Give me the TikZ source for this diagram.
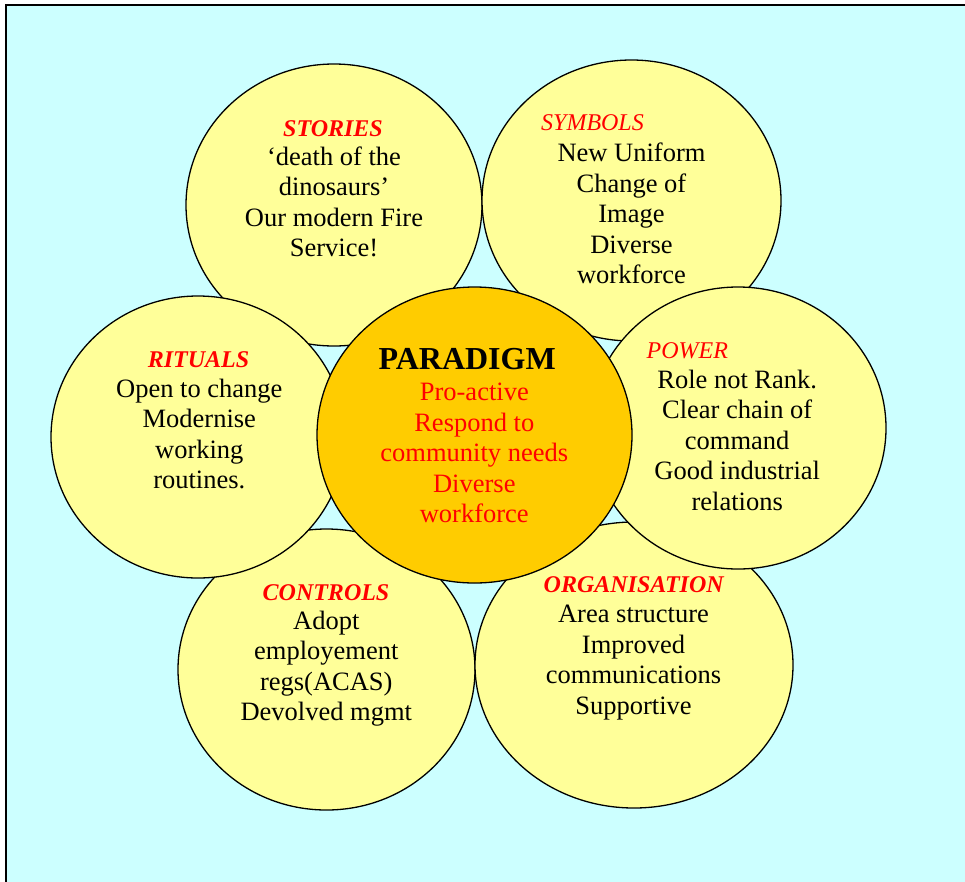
\documentclass[tikz,border=0pt]{standalone}
\usepackage{fontspec}
\setmainfont{Liberation Serif}
\usetikzlibrary{shapes.geometric}
\definecolor{skybg}{HTML}{CCFFFF}
\definecolor{pale}{HTML}{FFFF99}
\definecolor{gold}{HTML}{FFCC00}
\definecolor{hot}{HTML}{FF0000}
\newcommand{\lines}[1]{\begin{tabular}[t]{@{}c@{}}#1\end{tabular}}
\begin{document}
\begin{tikzpicture}[x=1pt,y=-1pt,
  blob/.style={ellipse, draw=black, line width=1.3pt, fill=pale, inner sep=0pt},
  head/.style={anchor=base, inner sep=0pt, text=hot, font=\fontsize{24}{28}\selectfont\bfseries\itshape},
  headlight/.style={anchor=base, inner sep=0pt, text=hot, font=\fontsize{24}{28}\selectfont\itshape},
  body/.style={anchor=base, inner sep=0pt, font=\fontsize{26.5}{30.5}\selectfont},
]
\useasboundingbox (0,0) rectangle (965,881);
\clip (0,0) rectangle (965,881);
% page and framed panel
\fill[white] (0,0) rectangle (965,881);
\fill[skybg] (6,5) rectangle (980,895);
\draw[line width=2pt] (6,895) -- (6,5.2) -- (980,5.2);

% outer petals
\node[blob, minimum width=297pt, minimum height=281pt] (controls) at (326.5,669.5) {};
\node[blob, minimum width=318pt, minimum height=286pt] (organisation) at (634,665) {};
\node[blob, minimum width=296pt, minimum height=282pt] (stories) at (334,205) {};
\node[blob, minimum width=299pt, minimum height=281pt] (symbols) at (631.5,200.5) {};
\node[blob, minimum width=294pt, minimum height=282pt] (rituals) at (198,437) {};
\node[blob, minimum width=296pt, minimum height=282pt] (power) at (738,428) {};
% centre
\node[blob, fill=gold, minimum width=315pt, minimum height=296pt] (paradigm) at (474.5,435) {};

% headings
\node[head] (storiesHead) at (333,136) {STORIES};
\node[headlight] (symbolsHead) at (592.5,130) {SYMBOLS};
\node[head] (ritualsHead) at (198.5,367.7) {RITUALS};
\node[headlight] (powerHead) at (687.3,358.3) {POWER};
\node[head] (controlsHead) at (326,600) {CONTROLS};
\node[head] (organisationHead) at (633.7,592.3) {ORGANISATION};
\node[anchor=base, inner sep=0pt, font=\fontsize{32}{36}\selectfont\bfseries] (paradigmHead) at (467.2,369.3) {PARADIGM};

% texts
\node[body] (storiesTxt) at (334,165) {\lines{‘death of the\\dinosaurs’\\Our modern Fire\\Service!}};
\node[body] (symbolsTxt) at (631.5,161.7) {\lines{New Uniform\\Change of\\Image\\Diverse\\workforce}};
\node[body] (ritualsTxt) at (199.3,397.3) {\lines{Open to change\\Modernise\\working\\routines.}};
\node[body] (powerTxt) at (737.2,388.3) {\lines{Role not Rank.\\Clear chain of\\command\\Good industrial\\relations}};
\node[body] (controlsTxt) at (326.3,629.3) {\lines{Adopt\\employement\\regs(ACAS)\\Devolved mgmt}};
\node[body] (organisationTxt) at (633.5,622.7) {\lines{Area structure\\Improved\\communications\\Supportive}};
\node[body, text=hot] (paradigmTxt) at (474.3,400.7) {\lines{Pro-active\\Respond to\\community needs\\Diverse\\workforce}};
\end{tikzpicture}
\end{document}
